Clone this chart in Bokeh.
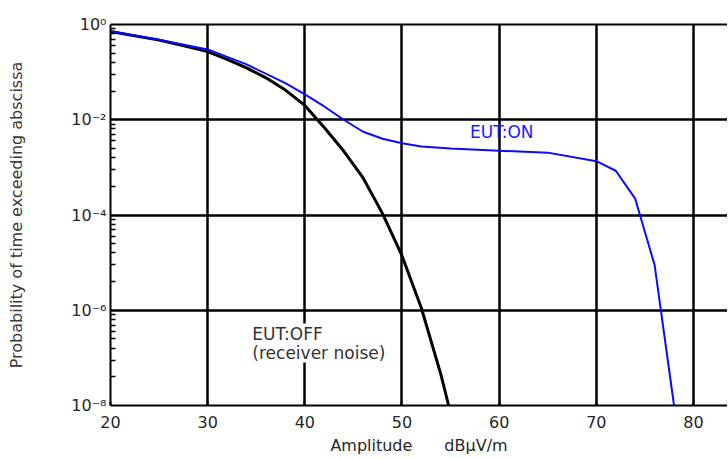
from bokeh.plotting import figure
from bokeh.models import (FixedTicker, LinearAxis, Label, Range1d,
                          ColumnDataSource)
from bokeh.embed import file_html
from bokeh.resources import INLINE

# ---- data ----
amp_off = [20, 25, 28, 30, 32, 34, 36, 38, 40, 42, 44, 46, 48, 50, 52, 54,
           54.8]
prob_off = [0.71, 0.47, 0.34, 0.27, 0.186, 0.123, 0.076, 0.042, 0.020,
            6.9e-3, 2.2e-3, 6.0e-4, 1.07e-4, 1.4e-5, 1.1e-6, 4.5e-8, 1.0e-8]

amp_on = [20, 25, 30, 34, 38, 40, 42, 44, 46, 48, 50, 52, 55, 60, 65, 70,
          72, 74, 76, 78]
prob_on = [0.72, 0.48, 0.30, 0.145, 0.059, 0.034, 0.019, 0.010, 5.6e-3,
           4.0e-3, 3.2e-3, 2.75e-3, 2.5e-3, 2.24e-3, 2.04e-3, 1.35e-3,
           8.5e-4, 2.2e-4, 8.9e-6, 1.0e-8]

x_ticks = [20, 30, 40, 50, 60, 70, 80]
y_exponents = [0, -2, -4, -6, -8]
y_tick_labels = ["10\u2070", "10\u207b\u00b2", "10\u207b\u2074",
                 "10\u207b\u2076", "10\u207b\u2078"]

label_on = "EUT:ON"
label_off = "EUT:OFF\n(receiver noise)"
x_title = "Amplitude\u2003\u2003dB\u00b5V/m"
y_title = "Probability of time exceeding abscissa"

FONT = "DejaVu Sans"
TXT = "#262626"

y_major = [10.0 ** e for e in y_exponents]
y_minor = []
for e in y_exponents[1:]:
    for m in range(2, 10):
        y_minor.append(10.0 ** (e + 2) * (m / 10.0) ** 2)

X_END = 83.5

p = figure(width=727, height=457, y_axis_type="log",
           x_range=Range1d(20, X_END), y_range=Range1d(1e-8, 1),
           output_backend="svg", toolbar_location=None,
           min_border_left=110, min_border_top=24, min_border_bottom=52,
           min_border_right=0)
p.outline_line_color = None
p.background_fill_color = "white"
p.border_fill_color = "white"

# grid
p.xgrid.ticker = FixedTicker(ticks=x_ticks)
p.ygrid.ticker = FixedTicker(ticks=y_major)
for g in (p.xgrid, p.ygrid):
    g.grid_line_color = "black"
    g.grid_line_width = 2.5
    g.grid_line_alpha = 1.0

# x axis
xa = p.xaxis[0]
xa.ticker = FixedTicker(ticks=x_ticks, minor_ticks=[])
xa.axis_line_color = "black"
xa.axis_line_width = 2
xa.major_tick_in = 4
xa.major_tick_out = 0
xa.major_tick_line_width = 2
xa.major_label_standoff = 10
xa.major_label_text_font = FONT
xa.major_label_text_font_size = "16px"
xa.major_label_text_color = TXT
xa.axis_label = x_title
xa.axis_label_text_font = FONT
xa.axis_label_text_font_size = "16px"
xa.axis_label_text_font_style = "normal"
xa.axis_label_text_color = TXT
xa.axis_label_standoff = 5

# y axis
ya = p.yaxis[0]
ya.ticker = FixedTicker(ticks=y_major, minor_ticks=y_minor)
ya.major_label_overrides = {v: t for v, t in zip(y_major, y_tick_labels)}
ya.axis_line_color = "black"
ya.axis_line_width = 2
ya.major_tick_in = 0
ya.major_tick_out = 0
ya.minor_tick_in = 5
ya.minor_tick_out = 0
ya.minor_tick_line_width = 1.5
ya.minor_tick_line_color = "black"
ya.major_label_standoff = 4
ya.major_label_text_font = FONT
ya.major_label_text_font_size = "16px"
ya.major_label_text_color = TXT
ya.axis_label = y_title
ya.axis_label_text_font = FONT
ya.axis_label_text_font_size = "16px"
ya.axis_label_text_font_style = "normal"
ya.axis_label_text_color = "#3a3a3a"
ya.axis_label_standoff = 42

# top frame line
top = LinearAxis(ticker=FixedTicker(ticks=[]), axis_line_color="black",
                 axis_line_width=2)
p.add_layout(top, "above")

# curves
src_off = ColumnDataSource(dict(x=amp_off, y=prob_off))
src_on = ColumnDataSource(dict(x=amp_on, y=prob_on))
p.line("x", "y", source=src_off, line_color="black", line_width=3)
p.line("x", "y", source=src_on, line_color="#0a0aff", line_width=2)

# annotations
p.add_layout(Label(x=57.0, y=5.6e-3, text=label_on, text_font=FONT,
                   text_font_size="17px", text_color="#1a1aff",
                   text_align="left", text_baseline="middle"))
p.add_layout(Label(x=34.6, y=10 ** -6.28, text=label_off, text_font=FONT,
                   text_font_size="17px", text_color="#333333",
                   text_align="left", text_baseline="top",
                   text_line_height=0.95,
                   background_fill_color="white"))

open("out.html", "w").write(file_html(p, INLINE))
